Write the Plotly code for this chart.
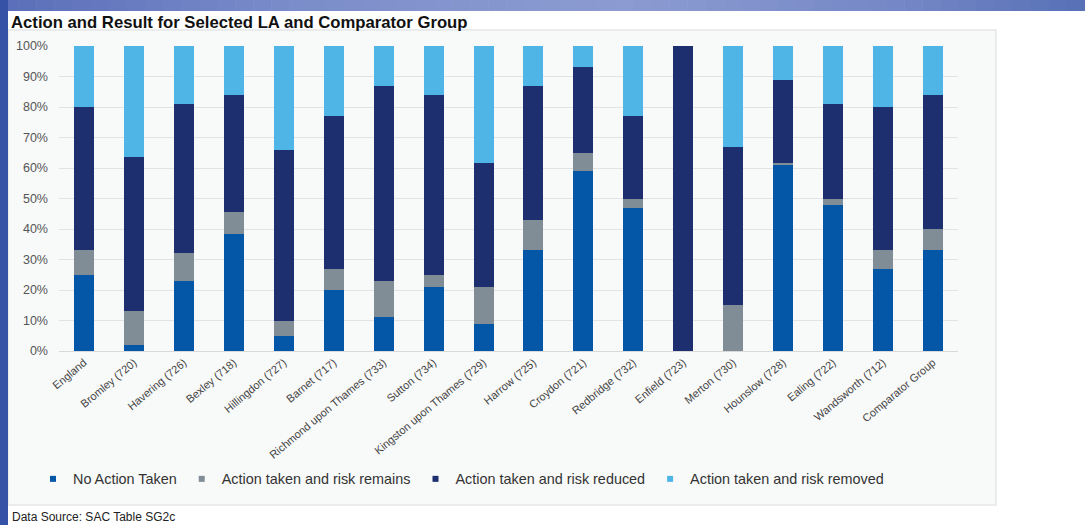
import plotly.graph_objects as go

# ---------------- data ----------------
categories = ["England", "Bromley (720)", "Havering (726)", "Bexley (718)", "Hillingdon (727)",
              "Barnet (717)", "Richmond upon Thames (733)", "Sutton (734)",
              "Kingston upon Thames (729)", "Harrow (725)", "Croydon (721)", "Redbridge (732)",
              "Enfield (723)", "Merton (730)", "Hounslow (728)", "Ealing (722)",
              "Wandsworth (712)", "Comparator Group"]
no_action = [25, 2, 23, 38.5, 5, 20, 11, 21, 9, 33, 59, 47, 0, 0, 61, 48, 27, 33]
risk_remains = [8, 11, 9, 7, 5, 7, 12, 4, 12, 10, 6, 3, 0, 15, 0.5, 2, 6, 7]
risk_reduced = [47, 50.5, 49, 38.5, 56, 50, 64, 59, 40.5, 44, 28, 27, 100, 52, 27.5, 31, 47, 44]
risk_removed = [20, 36.5, 19, 16, 34, 23, 13, 16, 38.5, 13, 7, 23, 0, 33, 11, 19, 20, 16]
series_names = ["No Action Taken", "Action taken and risk remains",
                "Action taken and risk reduced", "Action taken and risk removed"]
y_ticks = [0, 10, 20, 30, 40, 50, 60, 70, 80, 90, 100]
y_tick_labels = ["0%", "10%", "20%", "30%", "40%", "50%", "60%", "70%", "80%", "90%", "100%"]

# ---------------- style ----------------
colors = ["#0456a7", "#808d97", "#1e2f6f", "#4fb5e6"]
FONT = "Arial, Liberation Sans, sans-serif"
W, H = 1085, 525
L, R, T, B = 59, 127, 46, 174
PW, PH = W - L - R, H - T - B


def px_x(p):
    return (p - L) / PW


def px_y(p):
    return (H - B - p) / PH


fig = go.Figure()
for vals, name, col in zip([no_action, risk_remains, risk_reduced, risk_removed], series_names, colors):
    fig.add_trace(go.Bar(x=categories, y=vals, name=name, marker=dict(color=col, line=dict(width=0)),
                         showlegend=False))
# legend-only entries with small square markers
for name, col in zip(series_names, colors):
    fig.add_trace(go.Scatter(x=[None], y=[None], mode="markers", name=name,
                             marker=dict(symbol="square", size=6, color=col)))

shapes = []
# chart box
shapes.append(dict(type="rect", xref="paper", yref="paper", layer="below",
                   x0=px_x(8), x1=px_x(996), y0=px_y(505), y1=px_y(30),
                   fillcolor="#f8f9f9", line=dict(color="#e4e6e7", width=1.5)))


def lerp(c1, c2, t):
    a = [int(c1[i:i + 2], 16) for i in (1, 3, 5)]
    b = [int(c2[i:i + 2], 16) for i in (1, 3, 5)]
    return "#%02x%02x%02x" % tuple(round(a[k] + (b[k] - a[k]) * t) for k in range(3))


stops = [(0, "#5a6eba"), (300, "#7b8dca"), (620, "#8c9cd2"), (900, "#7587c6"), (1085, "#5670b6")]
n = 60
for i in range(n):
    xa, xb = i * W / n, (i + 1) * W / n
    xm = (xa + xb) / 2
    for (p0, c0), (p1, c1) in zip(stops[:-1], stops[1:]):
        if p0 <= xm <= p1:
            col = lerp(c0, c1, (xm - p0) / (p1 - p0))
            break
    shapes.append(dict(type="rect", xref="paper", yref="paper", layer="above",
                       x0=px_x(xa), x1=px_x(xb + 0.6), y0=px_y(11), y1=px_y(0),
                       fillcolor=col, line=dict(width=0)))
# left band
shapes.append(dict(type="rect", xref="paper", yref="paper", layer="above",
                   x0=px_x(0), x1=px_x(8), y0=px_y(H), y1=px_y(0),
                   fillcolor="#3652a6", line=dict(width=0)))

annotations = [
    dict(text="<b>Action and Result for Selected LA and Comparator Group</b>", xref="paper", yref="paper",
         x=px_x(9), y=px_y(22), xanchor="left", yanchor="middle", showarrow=False,
         font=dict(family=FONT, size=16.7, color="#111111")),
    dict(text="Data Source: SAC Table SG2c", xref="paper", yref="paper",
         x=px_x(10), y=px_y(517), xanchor="left", yanchor="middle", showarrow=False,
         font=dict(family=FONT, size=12, color="#222222")),
]

fig.update_layout(
    width=W, height=H,
    margin=dict(l=L, r=R, t=T, b=B, pad=0),
    paper_bgcolor="white", plot_bgcolor="rgba(0,0,0,0)",
    barmode="stack", bargap=0.6,
    font=dict(family=FONT, size=11, color="#444444"),
    shapes=shapes, annotations=annotations,
    legend=dict(orientation="h", x=px_x(33), y=px_y(479), xanchor="left", yanchor="middle",
                font=dict(family=FONT, size=14.4, color="#333333"), bgcolor="rgba(0,0,0,0)",
                itemclick=False, traceorder="normal"),
    xaxis=dict(tickangle=-40, tickfont=dict(family=FONT, size=11, color="#444444"),
               showline=True, linecolor="#d9d9d9", ticks="", showgrid=False),
    yaxis=dict(range=[0, 100], tickmode="array", tickvals=y_ticks, ticktext=y_tick_labels,
               showgrid=True, gridcolor="#e2e3e4", gridwidth=1, zeroline=False,
               tickfont=dict(family=FONT, size=12.5, color="#555555"), ticklabelstandoff=10),
)

fig.write_html("out.html", config={"displayModeBar": False},
               post_script="document.body.style.margin='0';document.body.style.overflow='hidden';")
